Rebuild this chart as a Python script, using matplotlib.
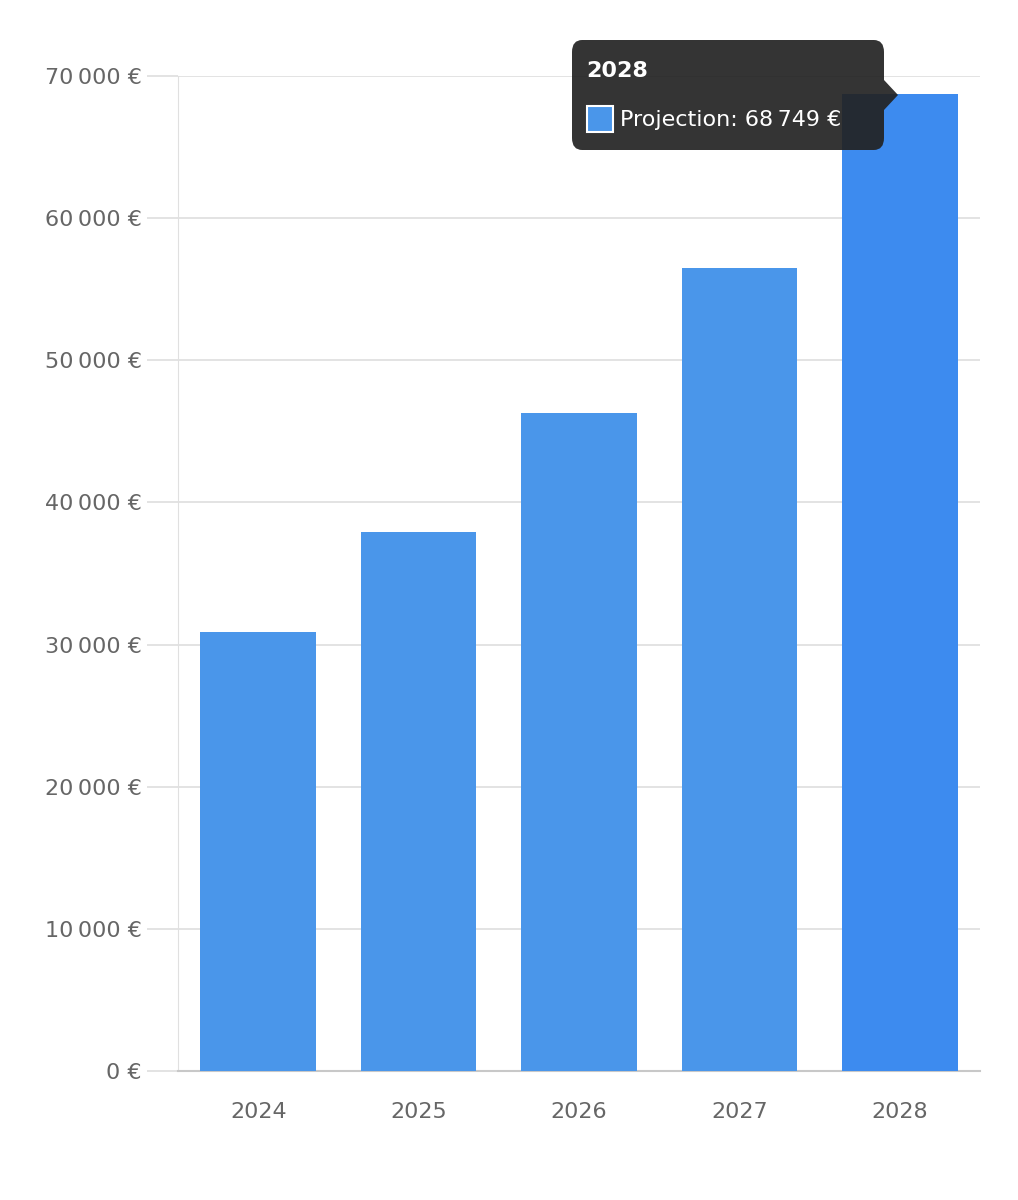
import matplotlib
matplotlib.use("Agg")
import matplotlib.pyplot as plt
from matplotlib.patches import FancyBboxPatch, Rectangle, Polygon

years = ["2024", "2025", "2026", "2027", "2028"]
values = [30900, 37900, 46300, 56500, 68749]
yticks = [0, 10000, 20000, 30000, 40000, 50000, 60000, 70000]

def euro(v):
    s = f"{int(v):,}".replace(",", "\u202f")
    return s + " €"

W, H = 1018, 1200
fig = plt.figure(figsize=(W / 100, H / 100), dpi=100)
ax = fig.add_axes([178 / W, 129 / H, 802 / W, 995 / H])

colors = ["#4a96ea"] * 4 + ["#3d8bef"]
ax.bar(range(len(years)), values, width=0.72, color=colors, zorder=3)
ax.set_xlim(-0.5, len(years) - 0.5)
ax.set_ylim(0, 70000)
ax.set_yticks(yticks)
ax.set_yticklabels([euro(v) for v in yticks])
ax.set_xticks(range(len(years)))
ax.set_xticklabels(years)
ax.grid(axis="y", color="#e0e0e0", linewidth=1.3, zorder=0)
for s in ["top", "right"]:
    ax.spines[s].set_visible(False)
ax.spines["left"].set_color("#e0e0e0")
ax.spines["bottom"].set_color("#c8c8c8")
ax.spines["bottom"].set_linewidth(1.5)
ax.tick_params(axis="y", length=22, color="#e0e0e0", width=1.3, labelsize=16,
               labelcolor="#666666", pad=4)
ax.tick_params(axis="x", length=0, labelsize=16, labelcolor="#666666", pad=22)

# tooltip
tx0, ty0, tx1, ty1 = 572 / W, 1 - 150 / H, 884 / W, 1 - 40 / H
box = FancyBboxPatch((tx0, ty0), tx1 - tx0, ty1 - ty0,
                     boxstyle="round,pad=0,rounding_size=0.01",
                     transform=fig.transFigure, facecolor="#222222", alpha=0.92,
                     edgecolor="none", zorder=10)
fig.patches.append(box)
tri = Polygon([(884 / W, 1 - 80 / H), (884 / W, 1 - 110 / H), (898 / W, 1 - 95 / H)],
              closed=True, transform=fig.transFigure, facecolor="#222222",
              alpha=0.92, edgecolor="none", zorder=10)
fig.patches.append(tri)
fig.text(586 / W, 1 - 71 / H, years[-1], color="white", fontsize=16,
         fontweight="bold", va="center", zorder=11)
sw = Rectangle((587 / W, 1 - 132 / H), 26 / W, 26 / H, transform=fig.transFigure,
               facecolor="#4a96ea", edgecolor="white", linewidth=1.5, zorder=11)
fig.patches.append(sw)
fig.text(620 / W, 1 - 120 / H, "Projection: " + euro(values[-1]), color="white",
         fontsize=16, va="center", zorder=11)

fig.savefig("out.png", dpi=100, facecolor="white")
